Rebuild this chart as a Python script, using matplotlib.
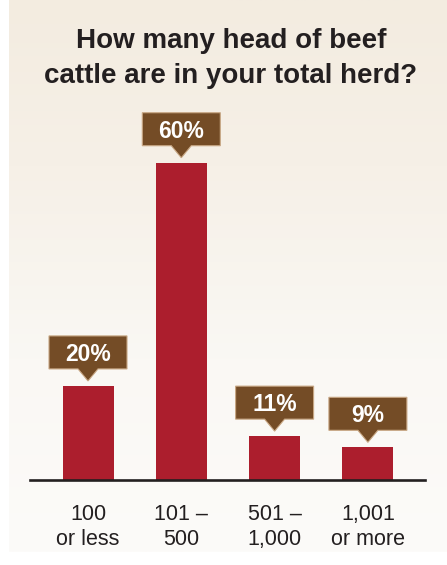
import numpy as np
import matplotlib
matplotlib.use("Agg")
import matplotlib.pyplot as plt
from matplotlib import transforms
from matplotlib.patches import Polygon
from matplotlib.colors import LinearSegmentedColormap

# Survey results
categories = ["100\nor less", "101 \u2013\n500", "501 \u2013\n1,000", "1,001\nor more"]
shares = [20, 60, 11, 9]
title_lines = ["How many head of beef", "cattle are in your total herd?"]

BAR_RED = "#AC1E2D"
CALLOUT_BROWN = "#744C26"
CALLOUT_EDGE = "#C8A784"
INK = "#231F20"
FONT = "Liberation Sans"

W, H, DPI = 447, 565, 100
fig = plt.figure(figsize=(W / DPI, H / DPI), dpi=DPI)
fig.patch.set_facecolor("white")

# Soft beige panel behind the chart, fading toward the bottom
bg = fig.add_axes([9 / W, (H - 552) / H, 1 - 9 / W, 552 / H], zorder=0)
cmap = LinearSegmentedColormap.from_list(
    "panel",
    [(0.0, "#F3ECE0"), (0.3, "#F6F0E7"), (0.65, "#FAF8F4"), (1.0, "#FCFBF9")],
)
grad = np.linspace(0, 1, 256).reshape(-1, 1)
bg.imshow(grad, aspect="auto", cmap=cmap, extent=[0, 1, 0, 1], origin="upper")
bg.set_axis_off()

# Main plotting area: baseline sits at y=480px, spans x=30..425px
left_px, right_px = 30, 425
base_px, top_px = 480, 100
ax = fig.add_axes([left_px / W, (H - base_px) / H, (right_px - left_px) / W, (base_px - top_px) / H], zorder=1)
ax.patch.set_alpha(0)

x = np.arange(len(categories))
step_px = 93.3
ax.set_xlim(-(88 - left_px) / step_px, -(88 - left_px) / step_px + (right_px - left_px) / step_px)
y0 = 3.14
px_per_unit = 5.58
ax.set_ylim(y0, y0 + (base_px - top_px) / px_per_unit)

ax.bar(x, shares, width=51 / step_px, color=BAR_RED, zorder=2)

for s in ["top", "right", "left"]:
    ax.spines[s].set_visible(False)
ax.spines["bottom"].set_color(INK)
ax.spines["bottom"].set_linewidth(1.9)
ax.spines["bottom"].set_zorder(3)
ax.set_yticks([])
ax.set_xticks(x)
ax.set_xticklabels(categories, fontsize=15.5, family=FONT, color=INK, linespacing=1.3)
ax.tick_params(axis="x", length=0, pad=17)

# Callout boxes with a downward pointer above each bar (coordinates in pixels)
shape = np.array([(-39, 17), (-10, 17), (0, 5), (10, 17), (39, 17), (39, 50), (-39, 50)]) / DPI
for xi, v in zip(x, shares):
    tr = fig.dpi_scale_trans + transforms.ScaledTranslation(xi, v, ax.transData)
    ax.add_patch(Polygon(shape, closed=True, transform=tr, facecolor=CALLOUT_BROWN,
                         edgecolor=CALLOUT_EDGE, linewidth=0.8, zorder=4, clip_on=False))
    ax.text(0, 25 / DPI, f"{v}%", transform=tr, ha="center", va="baseline",
            color="white", fontsize=16.5, fontweight="bold", family=FONT, zorder=5)

for line, base in zip(title_lines, [48, 83]):
    fig.text(231 / W, 1 - base / H, line, ha="center", va="baseline", fontsize=20,
             fontweight="bold", family=FONT, color=INK)

fig.savefig("out.png", dpi=DPI, facecolor=fig.get_facecolor())
